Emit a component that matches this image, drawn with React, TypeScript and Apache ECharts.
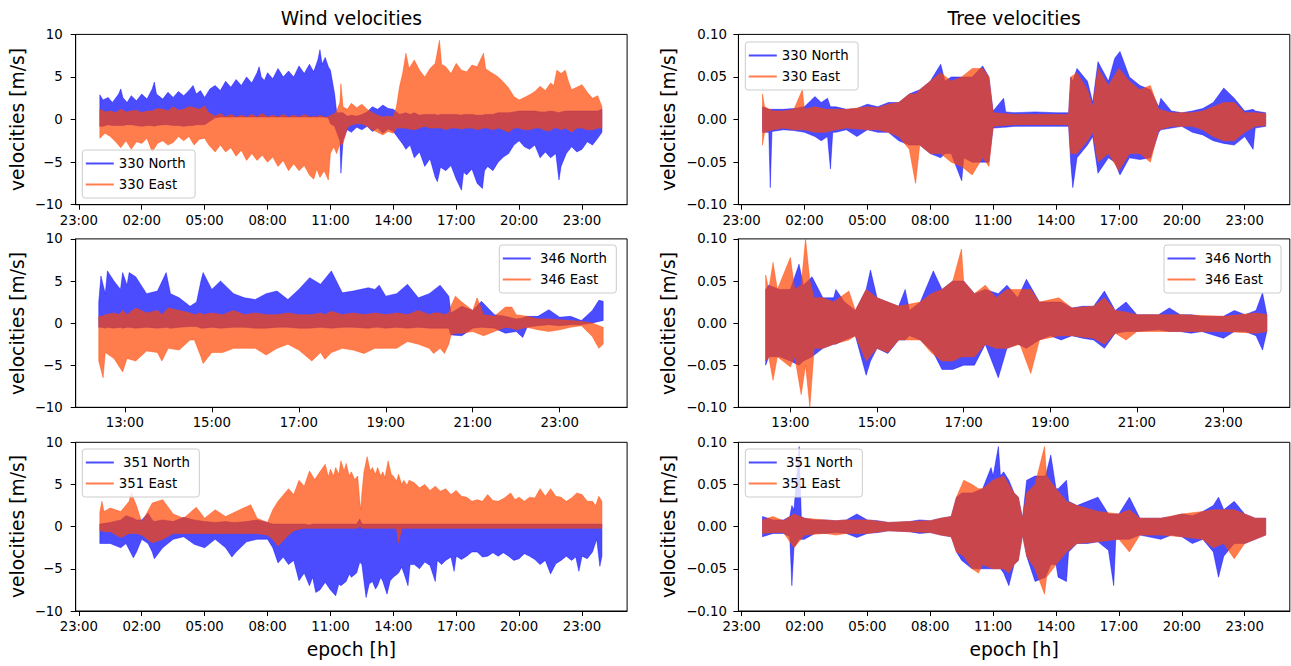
import React, { useEffect, useRef } from "react";
import * as echarts from "echarts";

type Row = [number, number, number]; // [hour, low envelope, high envelope]

// ---------- Wind 330 (m/s) ----------
const W330N: Row[] = [
  [0.0, -0.8, 2.9], [0.15, -0.8, 2.3], [0.4, -0.6, 2.6], [0.6, -0.7, 2.0], [0.9, -0.7, 3.0], [1.0, -0.7, 3.6],
  [1.1, -0.7, 2.6], [1.3, -0.6, 2.0], [1.5, -0.6, 2.8], [1.75, -0.7, 2.2], [2.0, -0.8, 3.0], [2.25, -0.7, 2.4],
  [2.5, -0.7, 3.6], [2.6, -0.8, 4.4], [2.7, -0.7, 3.0], [3.0, -0.6, 2.4], [3.25, -0.6, 3.2], [3.5, -0.7, 2.6],
  [3.75, -0.7, 3.3], [4.0, -0.8, 2.8], [4.25, -0.7, 3.4], [4.45, -0.7, 4.0], [4.6, -0.6, 3.0], [4.8, -0.6, 3.4],
  [5.0, -0.6, 2.6], [5.25, -0.2, 3.6], [5.5, 0.2, 4.0], [5.75, 0.3, 3.4], [6.0, 0.3, 4.5], [6.25, 0.3, 3.8],
  [6.5, 0.3, 4.7], [6.75, 0.3, 4.0], [7.0, 0.3, 5.0], [7.25, 0.3, 4.3], [7.5, 0.3, 5.5], [7.6, 0.3, 6.2],
  [7.7, 0.3, 5.0], [7.85, 0.3, 4.6], [8.0, 0.3, 5.5], [8.25, 0.3, 4.8], [8.5, 0.3, 6.0], [8.75, 0.3, 5.0],
  [9.0, 0.3, 5.7], [9.25, 0.3, 5.0], [9.5, 0.3, 6.3], [9.75, 0.3, 5.4], [10.0, 0.3, 6.5], [10.2, 0.3, 5.6],
  [10.4, 0.3, 7.0], [10.5, 0.3, 8.2], [10.6, 0.3, 6.5], [10.75, 0.3, 7.3], [10.9, 0.2, 6.2], [11.0, -0.5, 5.8],
  [11.2, -0.8, 3.0], [11.3, -1.5, 0.8], [11.45, -2.5, 0.8], [11.5, -6.3, 0.8], [11.6, -2.5, 0.8], [11.8, -1.2, 0.4],
  [12.0, -1.5, 0.5], [12.25, -0.9, 0.4], [12.5, -1.2, 0.6], [12.75, -0.8, 0.9], [13.0, -1.4, 1.5], [13.25, -1.0, 1.2],
  [13.5, -1.6, 1.7], [13.75, -1.1, 1.3], [14.0, -1.4, 1.2], [14.3, -2.4, 0.6], [14.45, -2.9, 0.7], [14.6, -3.5, 0.8],
  [14.8, -3.0, 0.6], [15.0, -4.5, 0.8], [15.25, -3.8, 0.5], [15.5, -5.5, 0.6], [15.75, -4.6, 0.6], [16.0, -6.8, 0.6],
  [16.1, -7.3, 0.5], [16.25, -5.6, 0.6], [16.5, -6.0, 0.6], [16.75, -5.4, 0.6], [17.0, -7.0, 0.6], [17.25, -8.3, 0.5],
  [17.35, -6.2, 0.6], [17.5, -6.5, 0.6], [17.75, -5.8, 0.6], [18.0, -7.5, 0.5], [18.25, -8.1, 0.5], [18.35, -6.0, 0.6],
  [18.5, -5.5, 0.6], [18.75, -6.0, 0.6], [19.0, -5.0, 0.8], [19.25, -4.4, 0.8], [19.5, -4.0, 0.8], [19.75, -3.0, 0.9],
  [20.0, -2.5, 1.0], [20.25, -3.2, 1.0], [20.5, -3.5, 1.0], [20.75, -3.0, 1.0], [21.0, -4.5, 0.9], [21.25, -3.8, 0.9],
  [21.5, -4.5, 1.0], [21.75, -4.0, 0.9], [21.9, -7.1, 0.8], [22.0, -5.5, 0.9], [22.25, -4.0, 1.0], [22.5, -3.2, 1.0],
  [22.75, -3.8, 1.0], [23.0, -3.5, 1.0], [23.25, -2.6, 1.0], [23.5, -3.0, 1.0], [23.75, -2.2, 1.0], [23.95, -1.5, 1.2],
];
const W330E: Row[] = [
  [0.0, -2.2, 1.2], [0.25, -1.6, 0.9], [0.5, -2.0, 1.0], [0.75, -2.6, 0.8], [1.0, -3.3, 1.2], [1.25, -2.5, 0.9],
  [1.5, -3.5, 1.0], [1.75, -2.6, 1.1], [2.0, -2.8, 0.8], [2.25, -2.2, 1.0], [2.5, -3.8, 1.0], [2.75, -2.8, 1.3],
  [3.0, -2.5, 1.2], [3.25, -3.0, 1.0], [3.5, -2.7, 1.5], [3.75, -2.0, 1.1], [4.0, -2.5, 1.2], [4.25, -2.0, 1.5],
  [4.5, -3.0, 1.4], [4.75, -2.3, 1.2], [5.0, -2.2, 1.6], [5.2, -3.0, 0.8], [5.5, -3.8, 0.4], [5.75, -3.0, 0.7],
  [6.0, -3.8, 0.3], [6.25, -3.3, 0.6], [6.5, -4.3, 0.3], [6.75, -3.6, 0.5], [7.0, -4.8, 0.3], [7.25, -4.0, 0.6],
  [7.5, -4.8, 0.3], [7.75, -4.2, 0.7], [8.0, -5.0, 0.3], [8.25, -4.4, 0.5], [8.5, -5.5, 0.3], [8.75, -4.8, 0.6],
  [9.0, -6.0, 0.3], [9.25, -5.2, 0.5], [9.5, -6.0, 0.3], [9.75, -5.4, 0.6], [10.0, -6.5, 0.3], [10.2, -7.0, 0.4],
  [10.35, -5.8, 0.3], [10.5, -6.8, 0.5], [10.7, -6.0, 0.3], [10.9, -7.1, 0.3], [11.0, -4.0, 0.5], [11.15, -3.2, 0.6],
  [11.3, -4.0, 1.0], [11.45, -2.8, 2.0], [11.5, -3.0, 4.2], [11.6, -2.8, 1.5], [11.8, -1.0, 1.2], [12.0, -0.6, 1.9],
  [12.25, -0.5, 1.4], [12.5, -0.5, 1.8], [12.75, -0.8, 1.2], [13.0, -1.2, 0.8], [13.25, -1.5, 0.5], [13.5, -1.8, 0.3],
  [13.75, -1.4, 0.4], [14.0, -1.6, 0.3], [14.15, -1.0, 1.5], [14.3, -1.0, 3.9], [14.45, -1.0, 5.5], [14.6, -1.0, 7.8],
  [14.75, -1.1, 6.0], [15.0, -1.2, 7.0], [15.25, -1.0, 5.8], [15.5, -0.8, 5.0], [15.75, -1.0, 6.0], [16.0, -1.0, 6.6],
  [16.2, -1.0, 9.3], [16.3, -1.0, 6.5], [16.5, -1.2, 6.2], [16.75, -1.0, 5.4], [17.0, -1.0, 6.6], [17.25, -1.1, 5.8],
  [17.5, -1.0, 5.6], [17.75, -1.0, 6.4], [18.0, -1.2, 6.2], [18.3, -1.0, 7.8], [18.4, -1.0, 6.0], [18.5, -1.0, 5.8],
  [18.75, -1.2, 5.4], [19.0, -1.0, 5.0], [19.25, -1.2, 4.4], [19.5, -1.5, 3.7], [19.75, -1.0, 2.7], [20.0, -1.0, 2.3],
  [20.25, -1.2, 2.6], [20.5, -1.2, 2.9], [20.75, -1.0, 3.3], [21.0, -1.0, 3.9], [21.25, -1.3, 3.4], [21.5, -1.3, 4.3],
  [21.65, -1.0, 4.0], [21.8, -1.0, 5.8], [22.0, -1.2, 5.4], [22.2, -1.0, 5.8], [22.35, -1.2, 4.5], [22.5, -1.5, 3.5],
  [22.75, -1.0, 3.8], [23.0, -1.0, 4.1], [23.25, -1.2, 3.2], [23.5, -1.2, 2.5], [23.75, -1.0, 2.8], [23.95, -1.0, 1.5],
];

// ---------- Tree 330 (m/s) ----------
const T330N: Row[] = [
  [0.0, -0.015, 0.015], [0.3, -0.015, 0.012], [0.37, -0.08, 0.012], [0.45, -0.014, 0.012], [1.0, -0.012, 0.012],
  [1.5, -0.013, 0.013], [2.0, -0.015, 0.015], [2.5, -0.02, 0.027], [2.8, -0.025, 0.02], [3.1, -0.02, 0.025],
  [3.24, -0.058, 0.015], [3.35, -0.015, 0.015], [3.5, -0.015, 0.015], [4.0, -0.012, 0.012], [4.5, -0.02, 0.013],
  [5.0, -0.012, 0.018], [5.5, -0.015, 0.015], [6.0, -0.015, 0.02], [6.5, -0.025, 0.02], [7.0, -0.03, 0.03],
  [7.5, -0.03, 0.035], [8.0, -0.04, 0.045], [8.5, -0.045, 0.065], [8.7, -0.04, 0.045], [9.0, -0.04, 0.05],
  [9.5, -0.072, 0.05], [9.6, -0.045, 0.05], [10.0, -0.05, 0.05], [10.5, -0.05, 0.063], [10.8, -0.05, 0.05],
  [11.0, -0.01, 0.01], [11.5, -0.009, 0.025], [11.6, -0.009, 0.009], [12.0, -0.008, 0.008], [13.0, -0.008, 0.009],
  [14.0, -0.008, 0.008], [14.6, -0.008, 0.008], [14.7, -0.05, 0.05], [14.8, -0.08, 0.045], [15.0, -0.045, 0.06],
  [15.5, -0.03, 0.045], [15.75, -0.02, 0.02], [16.0, -0.063, 0.068], [16.5, -0.045, 0.045], [16.8, -0.05, 0.072],
  [17.05, -0.065, 0.08], [17.5, -0.045, 0.05], [18.0, -0.047, 0.04], [18.5, -0.045, 0.035], [18.9, -0.015, 0.015],
  [19.0, -0.012, 0.025], [19.5, -0.01, 0.01], [20.0, -0.008, 0.008], [20.5, -0.015, 0.01], [21.0, -0.018, 0.013],
  [21.5, -0.025, 0.02], [22.0, -0.028, 0.037], [22.5, -0.03, 0.025], [23.0, -0.02, 0.01], [23.4, -0.035, 0.012],
  [23.5, -0.01, 0.01], [24.0, -0.008, 0.008],
];
const T330E: Row[] = [
  [0.0, -0.03, 0.03], [0.1, -0.015, 0.015], [0.5, -0.012, 0.01], [1.0, -0.01, 0.01], [1.5, -0.012, 0.012],
  [1.9, -0.012, 0.035], [2.0, -0.012, 0.012], [2.5, -0.015, 0.015], [3.0, -0.015, 0.012], [3.5, -0.012, 0.012],
  [4.0, -0.01, 0.012], [5.0, -0.012, 0.015], [5.5, -0.012, 0.014], [6.0, -0.015, 0.018], [6.5, -0.02, 0.02],
  [7.0, -0.035, 0.03], [7.3, -0.075, 0.03], [7.5, -0.03, 0.035], [8.0, -0.04, 0.045], [8.5, -0.04, 0.055],
  [9.0, -0.05, 0.045], [9.5, -0.055, 0.05], [10.0, -0.065, 0.06], [10.5, -0.045, 0.06], [10.8, -0.055, 0.05],
  [11.0, -0.008, 0.008], [12.0, -0.006, 0.006], [14.6, -0.006, 0.006], [14.7, -0.04, 0.05], [15.0, -0.04, 0.055],
  [15.5, -0.025, 0.035], [15.75, -0.015, 0.015], [16.0, -0.05, 0.06], [16.5, -0.04, 0.04], [17.0, -0.06, 0.06],
  [17.5, -0.04, 0.045], [18.0, -0.04, 0.035], [18.5, -0.05, 0.04], [18.9, -0.012, 0.012], [19.5, -0.008, 0.008],
  [20.5, -0.008, 0.008], [21.0, -0.012, 0.01], [21.5, -0.02, 0.015], [22.0, -0.025, 0.02], [22.5, -0.025, 0.02],
  [23.0, -0.015, 0.008], [23.5, -0.008, 0.008], [24.0, -0.007, 0.007],
];

// ---------- Wind 346 (m/s) ----------
const W346N: Row[] = [
  [12.4, -0.5, 2.5], [12.45, -0.5, 5.6], [12.55, -0.6, 3.5], [12.6, -0.5, 6.2], [12.75, -0.6, 5.0], [12.9, -0.5, 4.0],
  [12.95, -0.6, 6.0], [13.05, -0.5, 4.5], [13.1, -0.5, 6.0], [13.25, -0.6, 5.5], [13.5, -0.5, 3.5], [13.75, -0.6, 3.8],
  [13.95, -0.5, 6.0], [14.05, -0.6, 3.5], [14.25, -0.5, 3.0], [14.5, -0.4, 2.0], [14.65, -0.4, 2.5], [14.75, -0.6, 5.0],
  [14.8, -0.6, 6.0], [15.0, -0.5, 4.0], [15.2, -0.6, 5.0], [15.5, -0.5, 3.5], [15.75, -0.5, 3.0], [16.0, -0.6, 2.8],
  [16.25, -0.6, 3.5], [16.5, -0.5, 3.8], [16.75, -0.5, 2.8], [17.0, -0.6, 4.0], [17.25, -0.6, 5.4], [17.5, -0.5, 4.6],
  [17.75, -0.6, 6.2], [18.0, -0.5, 3.6], [18.25, -0.5, 3.8], [18.6, -0.6, 4.2], [18.75, -0.5, 4.0], [18.85, -0.5, 4.5],
  [19.0, -0.6, 3.2], [19.25, -0.5, 3.5], [19.5, -0.6, 4.6], [19.75, -0.5, 3.0], [20.0, -0.6, 3.5], [20.25, -0.6, 4.5],
  [20.45, -0.6, 3.2], [20.5, -1.4, 1.2], [20.75, -1.5, 2.0], [21.0, -0.6, 1.5], [21.2, -0.5, 2.6], [21.5, -0.6, 1.0],
  [21.75, -1.2, 0.8], [22.0, -1.0, 0.5], [22.15, -1.7, 0.6], [22.25, -0.5, 0.8], [22.5, -0.3, 0.8], [22.75, -0.2, 1.6],
  [23.0, -0.3, 0.7], [23.25, -0.2, 0.8], [23.5, -0.2, 0.3], [23.75, 0.0, 1.5], [23.9, 0.2, 2.7], [24.0, 0.3, 2.6],
];
const W346E: Row[] = [
  [12.4, -4.5, 0.8], [12.5, -6.5, 0.8], [12.55, -3.5, 1.0], [12.75, -4.2, 1.2], [12.85, -5.0, 1.0], [12.95, -5.8, 1.5],
  [13.05, -4.2, 1.0], [13.25, -4.5, 1.8], [13.5, -3.3, 1.2], [13.75, -3.5, 1.5], [13.85, -4.5, 1.0], [14.0, -3.0, 1.8],
  [14.25, -3.2, 1.5], [14.5, -2.0, 1.2], [14.6, -2.0, 1.0], [14.75, -4.0, 1.2], [14.8, -4.8, 1.0], [15.0, -3.5, 1.2],
  [15.25, -3.5, 1.0], [15.5, -3.0, 1.5], [15.75, -3.0, 1.0], [16.0, -3.0, 1.2], [16.25, -3.8, 1.0], [16.5, -3.0, 1.0],
  [16.75, -2.5, 1.2], [17.0, -3.2, 1.0], [17.3, -4.5, 1.0], [17.5, -3.5, 1.2], [17.6, -4.3, 1.0], [17.75, -3.5, 1.4],
  [18.0, -3.0, 1.0], [18.25, -3.2, 1.2], [18.5, -3.6, 1.0], [18.75, -3.0, 1.2], [19.0, -3.0, 1.0], [19.25, -3.0, 1.2],
  [19.5, -2.2, 1.0], [19.75, -2.5, 1.5], [20.0, -3.0, 1.0], [20.1, -3.6, 1.2], [20.25, -3.0, 1.2], [20.35, -3.6, 1.0],
  [20.45, -2.5, 1.2], [20.5, -1.4, 2.0], [20.6, -1.2, 3.2], [20.75, -1.2, 2.5], [21.0, -1.0, 1.5], [21.1, -1.2, 3.0],
  [21.25, -1.5, 1.0], [21.5, -1.0, 0.8], [21.75, -0.5, 1.9], [21.9, -0.6, 1.9], [22.0, -0.8, 1.0], [22.25, -0.5, 0.8],
  [22.5, -0.8, 0.5], [22.75, -1.0, 0.5], [23.0, -0.8, 0.4], [23.25, -0.5, 0.3], [23.5, -0.3, 0.2], [23.75, -1.6, 0.0],
  [23.9, -3.0, -0.3], [24.0, -2.5, -0.5],
];

// ---------- Tree 346 (m/s) ----------
const T346N: Row[] = [
  [12.43, -0.05, 0.04], [12.5, -0.04, 0.045], [12.75, -0.04, 0.04], [13.0, -0.045, 0.04], [13.2, -0.05, 0.07],
  [13.3, -0.045, 0.045], [13.5, -0.04, 0.055], [13.75, -0.03, 0.03], [14.0, -0.025, 0.03], [14.05, -0.025, 0.04],
  [14.25, -0.02, 0.025], [14.5, -0.015, 0.015], [14.75, -0.062, 0.04], [14.85, -0.045, 0.063], [15.0, -0.03, 0.03],
  [15.25, -0.036, 0.025], [15.5, -0.02, 0.02], [15.65, -0.02, 0.04], [15.75, -0.015, 0.015], [16.0, -0.02, 0.025],
  [16.3, -0.035, 0.062], [16.5, -0.055, 0.04], [16.75, -0.055, 0.05], [17.0, -0.05, 0.05], [17.25, -0.05, 0.035],
  [17.5, -0.025, 0.04], [17.8, -0.065, 0.035], [18.0, -0.03, 0.045], [18.25, -0.025, 0.03], [18.45, -0.03, 0.052],
  [18.75, -0.02, 0.025], [19.0, -0.015, 0.025], [19.25, -0.02, 0.025], [19.5, -0.015, 0.018], [19.75, -0.018, 0.02],
  [20.0, -0.02, 0.02], [20.25, -0.03, 0.038], [20.5, -0.012, 0.015], [20.75, -0.01, 0.025], [21.0, -0.01, 0.01],
  [21.5, -0.008, 0.01], [21.75, -0.01, 0.018], [22.0, -0.01, 0.01], [22.25, -0.012, 0.01], [22.5, -0.01, 0.008],
  [23.0, -0.018, 0.008], [23.25, -0.01, 0.015], [23.5, -0.01, 0.01], [23.75, -0.015, 0.015], [23.9, -0.032, 0.036],
  [24.0, -0.01, 0.01],
];
const T346E: Row[] = [
  [12.43, -0.045, 0.057], [12.5, -0.04, 0.04], [12.6, -0.068, 0.072], [12.7, -0.04, 0.04], [13.0, -0.052, 0.078],
  [13.1, -0.04, 0.04], [13.25, -0.085, 0.045], [13.35, -0.05, 0.1], [13.45, -0.1, 0.05], [13.55, -0.03, 0.03],
  [13.75, -0.03, 0.03], [14.0, -0.025, 0.025], [14.35, -0.02, 0.038], [14.5, -0.015, 0.015], [14.75, -0.045, 0.04],
  [15.0, -0.03, 0.03], [15.25, -0.035, 0.025], [15.5, -0.02, 0.02], [16.0, -0.02, 0.025], [16.25, -0.035, 0.035],
  [16.5, -0.045, 0.04], [16.75, -0.045, 0.05], [16.95, -0.04, 0.088], [17.0, -0.04, 0.05], [17.25, -0.04, 0.035],
  [17.5, -0.025, 0.045], [17.75, -0.03, 0.03], [18.0, -0.03, 0.04], [18.3, -0.025, 0.04], [18.55, -0.06, 0.04],
  [18.75, -0.02, 0.025], [19.2, -0.015, 0.03], [19.5, -0.015, 0.018], [20.0, -0.018, 0.02], [20.25, -0.025, 0.03],
  [20.5, -0.012, 0.015], [20.75, -0.02, 0.013], [21.0, -0.01, 0.01], [22.0, -0.01, 0.01], [23.0, -0.01, 0.008],
  [23.75, -0.012, 0.012], [24.0, -0.01, 0.01],
];

// ---------- Wind 351 (m/s) ----------
const W351N: Row[] = [
  [0.0, -2.0, 0.3], [0.5, -2.0, 0.5], [1.0, -2.5, 0.8], [1.25, -2.0, 1.3], [1.6, -3.7, 1.0], [1.75, -3.0, 0.8],
  [2.0, -1.5, 0.8], [2.3, -2.0, 1.6], [2.5, -3.0, 0.8], [2.6, -3.8, 0.6], [3.0, -2.5, 0.8], [3.5, -1.5, 0.6],
  [4.0, -1.2, 1.1], [4.5, -2.1, 0.8], [5.0, -2.5, 0.6], [5.5, -1.5, 0.5], [6.0, -2.5, 0.6], [6.3, -3.6, 0.5],
  [6.5, -3.0, 0.5], [7.0, -1.8, 0.6], [7.5, -1.5, 0.8], [8.0, -1.5, 0.5], [8.25, -2.5, 0.3], [8.5, -4.3, 0.3],
  [8.75, -3.6, 0.3], [9.0, -4.5, 0.3], [9.25, -4.0, 0.3], [9.5, -6.4, 0.3], [9.75, -5.5, 0.3], [10.0, -7.0, 0.2],
  [10.15, -6.0, 0.3], [10.3, -7.8, 0.3], [10.5, -7.5, 0.3], [10.75, -6.6, 0.3], [11.0, -7.5, 0.3], [11.25, -8.2, 0.3],
  [11.4, -6.8, 0.3], [11.5, -7.0, 0.3], [11.75, -6.5, 0.3], [11.9, -5.6, 0.3], [12.0, -6.0, 0.3], [12.25, -5.5, 0.3],
  [12.4, -4.2, 0.9], [12.5, -4.5, 0.3], [12.6, -6.5, 0.3], [12.7, -8.4, 0.3], [12.85, -6.8, 0.3], [13.0, -6.5, 0.3],
  [13.15, -7.4, 0.3], [13.25, -7.0, 0.3], [13.4, -6.0, 0.3], [13.5, -6.5, 0.3], [13.7, -8.0, 0.3], [13.85, -6.4, 0.3],
  [14.0, -6.0, 0.3], [14.25, -5.5, 0.3], [14.4, -4.8, 0.3], [14.5, -5.5, 0.3], [14.7, -7.0, 0.3], [14.8, -4.5, 0.3],
  [15.0, -4.5, 0.3], [15.25, -5.0, 0.3], [15.5, -4.2, 0.3], [15.75, -4.6, 0.3], [16.0, -6.5, 0.3], [16.1, -4.0, 0.3],
  [16.3, -4.5, 0.3], [16.5, -4.0, 0.3], [16.75, -3.6, 0.3], [16.9, -5.3, 0.3], [17.0, -3.5, 0.3], [17.25, -3.9, 0.3],
  [17.5, -3.5, 0.3], [17.75, -3.0, 0.3], [18.0, -3.0, 0.3], [18.25, -3.6, 0.3], [18.5, -3.5, 0.3], [18.75, -3.1, 0.3],
  [19.0, -3.5, 0.3], [19.25, -3.1, 0.3], [19.5, -3.5, 0.3], [19.75, -4.0, 0.3], [20.0, -3.8, 0.3], [20.25, -3.2, 0.3],
  [20.5, -3.5, 0.3], [20.75, -3.9, 0.3], [21.0, -4.5, 0.3], [21.25, -4.0, 0.3], [21.5, -5.6, 0.3], [21.75, -4.4, 0.3],
  [22.0, -4.0, 0.3], [22.25, -3.5, 0.3], [22.5, -4.0, 0.3], [22.7, -3.6, 0.3], [22.85, -5.3, 0.3], [23.0, -3.5, 0.3],
  [23.25, -3.8, 0.3], [23.5, -3.0, 0.3], [23.7, -1.5, 0.3], [23.85, -4.7, 0.3], [23.95, -3.5, 0.3],
];
const W351E: Row[] = [
  [0.0, -0.5, 1.7], [0.1, -0.5, 3.0], [0.2, -0.6, 1.8], [0.5, -0.6, 2.2], [1.0, -1.3, 1.8], [1.4, -0.8, 3.0],
  [1.5, -0.8, 4.0], [1.75, -0.8, 2.5], [2.0, -1.0, 0.5], [2.5, -1.9, 2.8], [3.0, -1.5, 3.2], [3.5, -0.8, 1.5],
  [4.0, -0.8, 1.0], [4.6, -0.8, 2.3], [5.0, -0.8, 1.0], [5.5, -0.8, 2.0], [6.0, -0.8, 1.2], [6.5, -0.8, 1.8],
  [7.2, -0.8, 2.6], [7.5, -0.8, 1.0], [8.0, -1.0, 0.5], [8.25, -1.5, 2.0], [8.5, -2.3, 3.0], [9.0, -1.0, 4.5],
  [9.25, -0.5, 3.8], [9.5, -0.3, 5.5], [9.75, -0.2, 4.8], [10.0, -0.2, 6.6], [10.25, -0.2, 5.6], [10.5, -0.2, 6.5],
  [10.75, -0.2, 7.4], [10.9, -0.2, 5.9], [11.0, -0.2, 6.8], [11.15, -0.2, 6.0], [11.25, -0.2, 7.0], [11.4, -0.2, 6.2],
  [11.5, -0.2, 7.8], [11.65, -0.2, 6.6], [11.75, -0.2, 7.5], [11.9, -0.2, 6.0], [12.0, -0.2, 6.5], [12.15, -0.2, 5.6],
  [12.3, -0.2, 6.0], [12.4, 0.0, 3.0], [12.45, 0.0, 2.0], [12.5, -0.2, 4.0], [12.6, -0.2, 6.5], [12.75, -0.2, 8.3],
  [12.9, -0.2, 6.6], [13.0, -0.2, 7.0], [13.15, -0.2, 6.2], [13.25, -0.2, 7.0], [13.4, -0.2, 6.0], [13.5, -0.2, 6.5],
  [13.6, -0.2, 5.8], [13.75, -0.2, 7.8], [13.9, -0.2, 6.2], [14.0, -0.2, 6.0], [14.15, -0.2, 5.4], [14.25, -1.9, 6.2],
  [14.4, -0.2, 5.0], [14.5, -0.2, 5.5], [14.65, -0.2, 4.9], [14.75, -0.2, 5.5], [15.0, -0.2, 5.2], [15.25, -0.2, 4.6],
  [15.5, -0.2, 5.0], [15.75, -0.2, 4.3], [16.0, -0.2, 4.8], [16.25, -0.2, 4.2], [16.5, -0.2, 4.5], [16.75, -0.2, 3.8],
  [17.0, -0.2, 4.3], [17.25, -0.2, 3.6], [17.5, -0.2, 3.5], [17.75, -0.2, 3.0], [18.0, -0.2, 3.2], [18.25, -0.2, 3.0],
  [18.5, -0.2, 3.8], [18.75, -0.2, 3.1], [19.0, -0.2, 3.0], [19.3, -0.2, 3.4], [19.6, -0.2, 4.0], [19.8, -0.2, 3.2],
  [20.0, -0.2, 3.5], [20.25, -0.2, 3.0], [20.5, -0.2, 3.5], [20.75, -0.2, 3.4], [21.0, -0.2, 4.5], [21.25, -0.2, 3.6],
  [21.5, -0.2, 4.5], [21.75, -0.2, 3.6], [22.0, -0.2, 3.5], [22.25, -0.2, 3.0], [22.5, -0.2, 3.4], [22.75, -0.2, 4.0],
  [23.0, -0.2, 3.8], [23.25, -0.2, 3.0], [23.5, -0.2, 3.0], [23.65, -0.2, 2.5], [23.8, -0.2, 3.6], [23.95, -0.2, 3.0],
];

// ---------- Tree 351 (m/s) ----------
const T351N: Row[] = [
  [0.0, -0.012, 0.012], [0.5, -0.008, 0.008], [1.0, -0.008, 0.008], [1.3, -0.012, 0.012], [1.4, -0.07, 0.025],
  [1.5, -0.025, 0.02], [1.75, -0.015, 0.095], [1.85, -0.015, 0.012], [2.0, -0.015, 0.01], [2.5, -0.008, 0.008],
  [3.0, -0.008, 0.008], [3.5, -0.007, 0.007], [4.0, -0.008, 0.008], [4.5, -0.013, 0.015], [5.0, -0.008, 0.008],
  [5.5, -0.007, 0.007], [6.0, -0.005, 0.005], [7.0, -0.006, 0.006], [7.5, -0.008, 0.008], [8.0, -0.007, 0.007],
  [8.5, -0.01, 0.01], [9.0, -0.012, 0.012], [9.25, -0.03, 0.035], [9.5, -0.04, 0.04], [10.0, -0.05, 0.04],
  [10.5, -0.05, 0.045], [10.9, -0.05, 0.07], [11.0, -0.05, 0.06], [11.25, -0.05, 0.095], [11.35, -0.05, 0.06],
  [11.5, -0.055, 0.065], [11.75, -0.07, 0.055], [12.0, -0.045, 0.04], [12.2, -0.04, 0.035], [12.4, -0.01, 0.01],
  [12.6, -0.035, 0.055], [13.0, -0.065, 0.06], [13.5, -0.06, 0.06], [13.75, -0.045, 0.085], [14.0, -0.045, 0.045],
  [14.1, -0.06, 0.045], [14.5, -0.065, 0.055], [14.6, -0.03, 0.03], [15.0, -0.02, 0.025], [15.5, -0.02, 0.03],
  [16.0, -0.018, 0.035], [16.5, -0.028, 0.015], [16.75, -0.07, 0.015], [16.85, -0.015, 0.015], [17.0, -0.015, 0.015],
  [17.5, -0.015, 0.035], [18.0, -0.01, 0.01], [19.0, -0.015, 0.01], [19.5, -0.01, 0.012], [20.0, -0.012, 0.015],
  [20.5, -0.02, 0.013], [21.0, -0.015, 0.018], [21.5, -0.03, 0.025], [21.75, -0.06, 0.035], [22.0, -0.035, 0.02],
  [22.5, -0.02, 0.03], [23.0, -0.02, 0.015], [23.5, -0.015, 0.01], [24.0, -0.01, 0.01],
];
const T351E: Row[] = [
  [0.0, -0.008, 0.008], [0.5, -0.007, 0.012], [1.0, -0.007, 0.007], [1.5, -0.025, 0.015], [2.0, -0.01, 0.01],
  [3.0, -0.008, 0.008], [3.5, -0.01, 0.007], [4.0, -0.008, 0.008], [5.0, -0.008, 0.008], [6.0, -0.005, 0.005],
  [7.0, -0.006, 0.006], [8.0, -0.007, 0.007], [8.5, -0.01, 0.01], [9.0, -0.012, 0.012], [9.25, -0.03, 0.035],
  [9.6, -0.035, 0.055], [10.0, -0.05, 0.05], [10.3, -0.055, 0.045], [10.5, -0.045, 0.045], [11.0, -0.05, 0.055],
  [11.5, -0.05, 0.06], [11.75, -0.055, 0.05], [12.0, -0.045, 0.04], [12.2, -0.04, 0.035], [12.4, -0.01, 0.01],
  [12.6, -0.035, 0.04], [13.0, -0.05, 0.05], [13.45, -0.08, 0.095], [13.55, -0.06, 0.06], [14.0, -0.045, 0.045],
  [14.5, -0.03, 0.03], [15.0, -0.02, 0.025], [16.0, -0.018, 0.018], [17.0, -0.015, 0.015], [17.5, -0.03, 0.02],
  [18.0, -0.01, 0.01], [19.0, -0.01, 0.01], [20.0, -0.012, 0.015], [21.0, -0.015, 0.018], [21.5, -0.025, 0.02],
  [22.0, -0.02, 0.02], [22.5, -0.038, 0.02], [23.0, -0.02, 0.015], [23.5, -0.015, 0.01], [24.0, -0.01, 0.01],
];

// ---------- ticks ----------
const X_TICKS_DAY = [-1, 2, 5, 8, 11, 14, 17, 20, 23];
const X_LABELS_DAY = ["23:00", "02:00", "05:00", "08:00", "11:00", "14:00", "17:00", "20:00", "23:00"];
const X_TICKS_EVE = [13, 15, 17, 19, 21, 23];
const X_LABELS_EVE = ["13:00", "15:00", "17:00", "19:00", "21:00", "23:00"];
const Y_LABELS_WIND = ["\u221210", "\u22125", "0", "5", "10"];
const Y_LABELS_TREE = ["\u22120.10", "\u22120.05", "0.00", "0.05", "0.10"];

const NAMES_330 = ["330 North", "330 East"];
const NAMES_346 = ["\u00a0346 North", "\u00a0346 East"];
const NAMES_351 = ["\u00a0351 North", "351 East"];

const FONT = "DejaVu Sans";
const NORTH_COLOR = "rgba(0,0,255,0.7)";
const EAST_COLOR = "rgba(255,69,0,0.7)";

const LEFT_X = 75.7;
const RIGHT_X = 738.4;
const PW = 551.4;

const PANELS = [
  { grid: { left: LEFT_X, top: 34.4, width: PW, height: 170.3 }, xr: [-1.15, 25.15], xt: X_TICKS_DAY, xl: X_LABELS_DAY, wind: true, names: NAMES_330, data: [W330N, W330E], lg: { left: 82.3, top: 150 } },
  { grid: { left: RIGHT_X, top: 34.4, width: PW, height: 170.3 }, xr: [-1.15, 25.15], xt: X_TICKS_DAY, xl: X_LABELS_DAY, wind: false, names: NAMES_330, data: [T330N, T330E], lg: { left: 745.3, top: 42 } },
  { grid: { left: LEFT_X, top: 238.9, width: PW, height: 168.4 }, xr: [11.87, 24.55], xt: X_TICKS_EVE, xl: X_LABELS_EVE, wind: true, names: NAMES_346, data: [W346N, W346E], lg: { left: 499.3, top: 245 } },
  { grid: { left: RIGHT_X, top: 238.9, width: PW, height: 168.4 }, xr: [11.8, 24.53], xt: X_TICKS_EVE, xl: X_LABELS_EVE, wind: false, names: NAMES_346, data: [T346N, T346E], lg: { left: 1164, top: 245 } },
  { grid: { left: LEFT_X, top: 442.3, width: PW, height: 168.7 }, xr: [-1.15, 25.15], xt: X_TICKS_DAY, xl: X_LABELS_DAY, wind: true, names: NAMES_351, data: [W351N, W351E], lg: { left: 82.3, top: 449 } },
  { grid: { left: RIGHT_X, top: 442.3, width: PW, height: 168.7 }, xr: [-1.15, 25.15], xt: X_TICKS_DAY, xl: X_LABELS_DAY, wind: false, names: NAMES_351, data: [T351N, T351E], lg: { left: 745.3, top: 449 } },
];

function bandSeries(name: string, rows: Row[], color: string, idx: number, z: number) {
  return {
    type: "custom",
    name,
    xAxisIndex: idx,
    yAxisIndex: idx,
    data: rows,
    encode: { x: 0, y: [1, 2] },
    itemStyle: { color },
    z,
    renderItem: (params: any, api: any) => {
      if (params.dataIndex !== 0) return null;
      const top = rows.map((r) => api.coord([r[0], r[2]]));
      const bot = rows.map((r) => api.coord([r[0], r[1]])).reverse();
      return {
        type: "polygon",
        silent: true,
        shape: { points: top.concat(bot) },
        style: { fill: color, stroke: color, lineWidth: 0.6 },
      };
    },
  };
}

export default function App() {
  const ref = useRef<HTMLDivElement>(null);
  useEffect(() => {
    document.body.style.margin = "0";
    if (!ref.current) return;
    const chart = echarts.init(ref.current, undefined, { renderer: "svg" });

    const grids: any[] = [];
    const xAxes: any[] = [];
    const yAxes: any[] = [];
    const series: any[] = [];
    const legends: any[] = [];

    PANELS.forEach((p, i) => {
      grids.push({ ...p.grid, show: true, borderColor: "#000", borderWidth: 1, backgroundColor: "transparent" });
      xAxes.push({
        gridIndex: i,
        type: "value",
        min: p.xr[0],
        max: p.xr[1],
        axisLine: { show: true, onZero: false, lineStyle: { color: "#000", width: 1 } },
        axisTick: { show: true, length: 5, lineStyle: { color: "#000", width: 1 }, customValues: p.xt },
        axisLabel: {
          customValues: p.xt,
          margin: 9,
          fontFamily: FONT,
          fontSize: 13.3,
          color: "#000",
          formatter: (v: number) => {
            const k = p.xt.findIndex((t) => Math.abs(t - v) < 1e-6);
            return k >= 0 ? p.xl[k] : "";
          },
        },
        splitLine: { show: false },
      });
      const ymin = p.wind ? -10 : -0.1;
      const ystep = p.wind ? 5 : 0.05;
      const ylabels = p.wind ? Y_LABELS_WIND : Y_LABELS_TREE;
      yAxes.push({
        gridIndex: i,
        type: "value",
        min: ymin,
        max: -ymin,
        interval: ystep,
        axisLine: { show: true, onZero: false, lineStyle: { color: "#000", width: 1 } },
        axisTick: { show: true, length: 5, lineStyle: { color: "#000", width: 1 } },
        axisLabel: {
          margin: p.wind ? 13 : 11.5,
          fontFamily: FONT,
          fontSize: 13.3,
          color: "#000",
          formatter: (v: number) => ylabels[Math.round((v - ymin) / ystep)] ?? "",
        },
        splitLine: { show: false },
      });
      series.push(bandSeries(p.names[0], p.data[0], NORTH_COLOR, i, 2));
      series.push(bandSeries(p.names[1], p.data[1], EAST_COLOR, i, 3));
      legends.push({
        orient: "vertical",
        left: p.lg.left,
        top: p.lg.top,
        icon: "rect",
        itemWidth: 28,
        itemHeight: 2,
        itemGap: 6,
        itemTextGap: 9,
        padding: [6, 9.5, 6, 3.5],
        borderColor: "#cccccc",
        borderWidth: 1,
        borderRadius: 3,
        backgroundColor: "rgba(255,255,255,0.8)",
        selectedMode: false,
        textStyle: { fontFamily: FONT, fontSize: 13.3, color: "#000", lineHeight: 15 },
        data: p.names,
        z: 10,
      });
    });

    const txt = (text: string, x: number, y: number, size: number, rotation = 0) => ({
      type: "text",
      x,
      y,
      rotation,
      silent: true,
      style: { text, fontFamily: FONT, fontSize: size, fill: "#000", textAlign: "center", textVerticalAlign: "middle" },
    });

    const graphics = [
      txt("Wind velocities", 351.4, 18, 18.7),
      txt("Tree velocities", 1014.1, 18, 18.7),
      txt("epoch [h]", 351.4, 649, 18.7),
      txt("epoch [h]", 1014.1, 649, 18.7),
      txt("velocities [m/s]", 17, 119.5, 18.7, Math.PI / 2),
      txt("velocities [m/s]", 17, 323.5, 18.7, Math.PI / 2),
      txt("velocities [m/s]", 17, 526.5, 18.7, Math.PI / 2),
      txt("velocities [m/s]", 668, 119.5, 18.7, Math.PI / 2),
      txt("velocities [m/s]", 668, 323.5, 18.7, Math.PI / 2),
      txt("velocities [m/s]", 668, 526.5, 18.7, Math.PI / 2),
    ];

    chart.setOption({
      animation: false,
      backgroundColor: "#fff",
      grid: grids,
      xAxis: xAxes,
      yAxis: yAxes,
      legend: legends,
      series,
      graphic: graphics,
    });
    return () => chart.dispose();
  }, []);
  return <div ref={ref} style={{ width: 1291, height: 666 }} />;
}
